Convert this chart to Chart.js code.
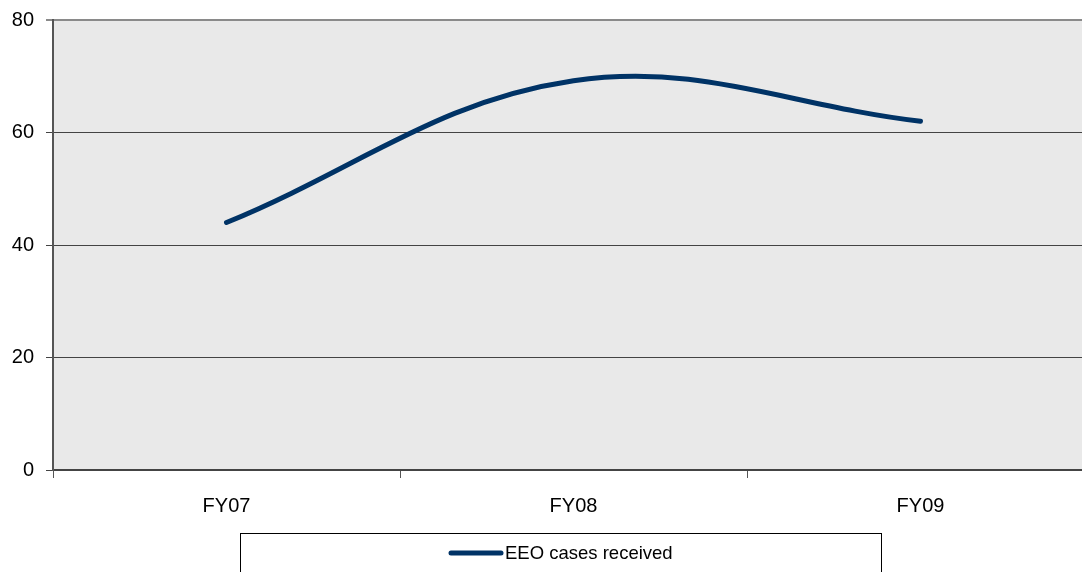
<!DOCTYPE html>
<html>
<head>
<meta charset="utf-8">
<script src="https://cdn.jsdelivr.net/npm/chart.js@4/dist/chart.umd.min.js"></script>
<style>
  html, body { margin: 0; padding: 0; background: #fff; overflow: hidden; }
  #clip { width: 1082px; height: 572px; overflow: hidden; }
  #wrap { width: 1094px; height: 572px; }
</style>
</head>
<body>
<div id="clip"><div id="wrap"><canvas id="eeoChart"></canvas></div></div>
<script>
// chart values
const years = ['FY07', 'FY08', 'FY09'];
const casesReceived = [44, 69.2, 62];
const yTicks = [0, 20, 40, 60, 80];

const lineColor = '#003366';

// grey plot background
const plotBg = {
  id: 'plotBg',
  beforeDraw(chart) {
    const { ctx, chartArea: a } = chart;
    ctx.save();
    ctx.fillStyle = '#e9e9e9';
    ctx.fillRect(a.left, a.top, a.right - a.left, a.bottom - a.top);
    ctx.restore();
  }
};

// boxed legend under the axis
const boxLegend = {
  id: 'boxLegend',
  afterDraw(chart) {
    const { ctx } = chart;
    const ds = chart.data.datasets[0];
    ctx.save();
    ctx.strokeStyle = '#000';
    ctx.lineWidth = 1;
    ctx.strokeRect(240.5, 533.5, 641, 60);
    ctx.strokeStyle = ds.borderColor;
    ctx.lineWidth = 5;
    ctx.lineCap = 'round';
    ctx.beginPath();
    ctx.moveTo(451, 553);
    ctx.lineTo(501, 553);
    ctx.stroke();
    ctx.fillStyle = '#000';
    ctx.font = '18.5px "Liberation Sans", Arial, sans-serif';
    ctx.textBaseline = 'middle';
    ctx.fillText(ds.label, 505, 554);
    ctx.restore();
  }
};

const ctx1 = document.getElementById('eeoChart');
new Chart(ctx1, {
  type: 'line',
  data: {
    labels: years,
    datasets: [{
      label: 'EEO cases received',
      data: casesReceived,
      borderColor: lineColor,
      borderWidth: 5,
      borderCapStyle: 'round',
      tension: 0.38,
      pointRadius: 0,
      fill: false
    }]
  },
  options: {
    responsive: true,
    maintainAspectRatio: false,
    animation: false,
    layout: { padding: { top: 20, right: 0, bottom: 0, left: 0 } },
    plugins: { legend: { display: false }, tooltip: { enabled: false } },
    scales: {
      x: {
        offset: true,
        grid: { offset: true, drawOnChartArea: false, color: '#555', tickLength: 8, lineWidth: 1 },
        border: { color: '#444', width: 2 },
        ticks: { color: '#000', padding: 16, font: { size: 20, family: '"Liberation Sans", Arial, sans-serif' } },
        afterFit(scale) { scale.height = 102; }
      },
      y: {
        min: 0,
        max: 80,
        afterBuildTicks(scale) { scale.ticks = yTicks.map(v => ({ value: v })); },
        grid: {
          color: c => (c.tick && c.tick.value === 80 ? '#8a8a8a' : '#444'),
          lineWidth: c => (c.tick && c.tick.value === 80 ? 2 : 1),
          tickLength: 7
        },
        border: { color: '#555', width: 2 },
        ticks: { color: '#000', padding: 12, font: { size: 20, lineHeight: 0.8, family: '"Liberation Sans", Arial, sans-serif' } },
        afterFit(scale) { scale.width = 53; }
      }
    }
  },
  plugins: [plotBg, boxLegend]
});
</script>
</body>
</html>
